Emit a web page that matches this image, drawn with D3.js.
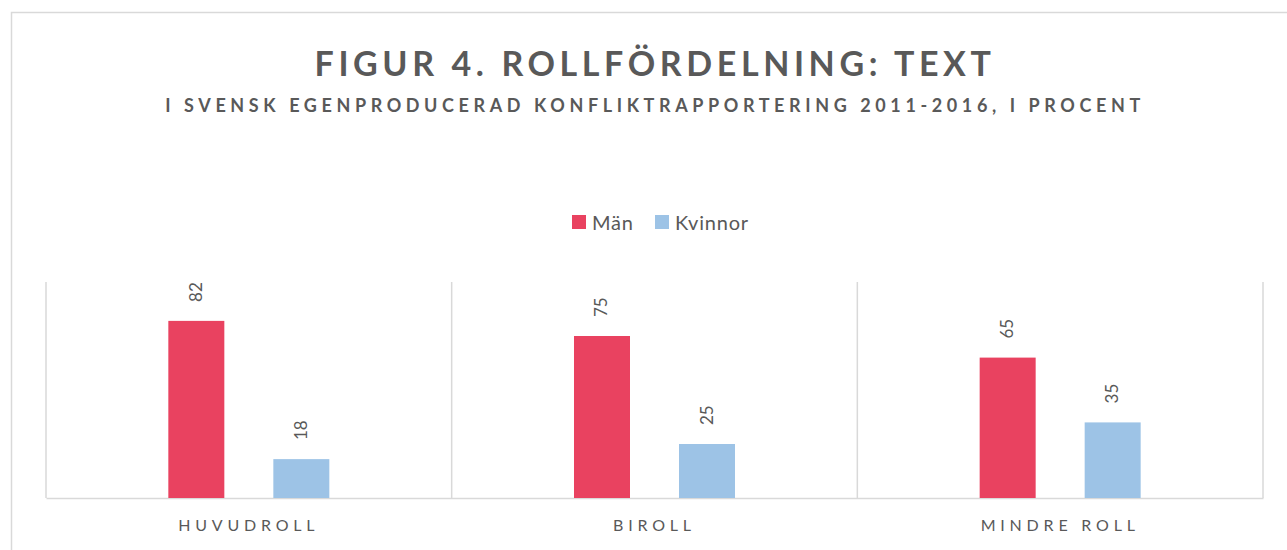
<!DOCTYPE html>
<html>
<head>
<meta charset="utf-8">
<script src="https://cdn.jsdelivr.net/npm/d3@7.9.0/dist/d3.min.js"></script>
<style>
  body { margin: 0; background: #fff; }
  svg { display: block; font-family: Lato, 'Open Sans', sans-serif; }
</style>
</head>
<body>
<div id="chart"></div>
<script>
const categories = ['HUVUDROLL', 'BIROLL', 'MINDRE ROLL'];
const series = ['Män', 'Kvinnor'];
const man = [82, 75, 65];
const kvinnor = [18, 25, 35];
const colors = ['#E94260', '#9DC3E6'];

const width = 1287, height = 550;
const plot = { left: 46, right: 1263, top: 282, bottom: 498 };

const svg = d3.select('#chart').append('svg')
  .attr('width', width).attr('height', height);

// outer chart frame (right and bottom run off the picture)
svg.append('rect')
  .attr('x', 11.5).attr('y', 12.5)
  .attr('width', 1300).attr('height', 600)
  .attr('fill', 'none').attr('stroke', '#d9d9d9').attr('stroke-width', 1.5);

svg.append('text')
  .attr('x', 655).attr('y', 76)
  .attr('text-anchor', 'middle')
  .attr('fill', '#595959')
  .style('font-size', '34px').style('font-weight', 700).style('letter-spacing', '4.6px')
  .text('FIGUR 4. ROLLFÖRDELNING: TEXT');

svg.append('text')
  .attr('x', 655).attr('y', 112)
  .attr('text-anchor', 'middle')
  .attr('fill', '#595959')
  .style('font-size', '18px').style('font-weight', 700).style('letter-spacing', '4.6px')
  .text('I SVENSK EGENPRODUCERAD KONFLIKTRAPPORTERING 2011-2016, I PROCENT');

const x0 = d3.scaleBand().domain(categories).range([plot.left, plot.right]);
const x1 = d3.scaleBand().domain(series).range([0, x0.bandwidth()])
  .paddingInner(0.4667).paddingOuter(1.165);
const y = d3.scaleLinear().domain([0, 100]).range([plot.bottom, plot.top]);

// vertical separators between categories
const edges = categories.map(c => x0(c)).concat([x0(categories[2]) + x0.bandwidth()]);
svg.append('g').selectAll('line').data(edges).join('line')
  .attr('x1', d => d).attr('x2', d => d)
  .attr('y1', plot.top).attr('y2', plot.bottom)
  .attr('stroke', '#d9d9d9').attr('stroke-width', 1.5);

const xAxis = svg.append('g')
  .attr('transform', `translate(0,${plot.bottom})`)
  .call(d3.axisBottom(x0).tickSize(0).tickPadding(22));
xAxis.select('.domain').attr('stroke', '#d9d9d9').attr('stroke-width', 1.5);
xAxis.selectAll('text')
  .attr('fill', '#595959')
  .style('font-family', 'Lato, sans-serif')
  .style('font-size', '16px').style('letter-spacing', '4.8px');

const rows = categories.map((c, i) => ({ cat: c, values: [man[i], kvinnor[i]] }));

const groups = svg.append('g').selectAll('g').data(rows).join('g')
  .attr('transform', d => `translate(${x0(d.cat)},0)`);

groups.selectAll('rect')
  .data(d => d.values.map((v, j) => ({ s: series[j], v, j })))
  .join('rect')
  .attr('x', d => x1(d.s))
  .attr('width', x1.bandwidth())
  .attr('y', d => y(d.v))
  .attr('height', d => y(0) - y(d.v))
  .attr('fill', d => colors[d.j]);

groups.selectAll('text.lbl')
  .data(d => d.values.map((v, j) => ({ s: series[j], v, j })))
  .join('text')
  .attr('class', 'lbl')
  .attr('transform', d => `translate(${x1(d.s) + x1.bandwidth() / 2 + 5.5},${y(d.v) - 19}) rotate(-90)`)
  .attr('fill', '#595959')
  .style('font-size', '17px')
  .text(d => d.v);

// legend
const legend = svg.append('g').attr('transform', 'translate(572,215)');
const legendX = [0, 83];
const items = legend.selectAll('g').data(series).join('g')
  .attr('transform', (d, i) => `translate(${legendX[i]},0)`);
items.append('rect').attr('width', 14).attr('height', 14).attr('fill', (d, i) => colors[i]);
items.append('text').attr('x', 20).attr('y', 14.5)
  .attr('fill', '#595959').style('font-size', '20px').style('letter-spacing', '0.8px')
  .text(d => d);
</script>
</body>
</html>
